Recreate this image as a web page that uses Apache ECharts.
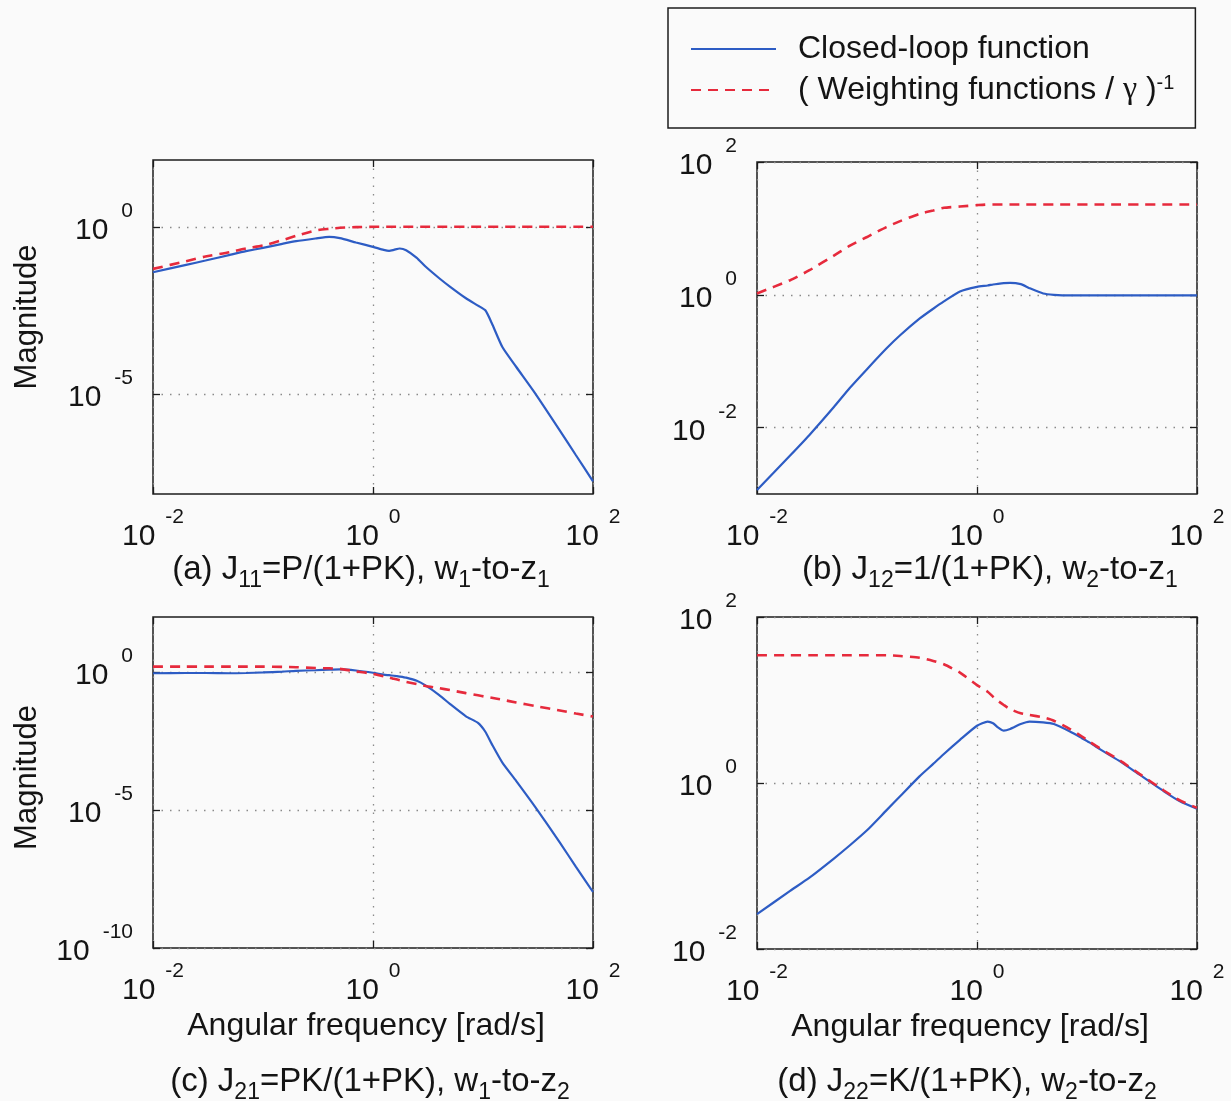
<!DOCTYPE html>
<html>
<head>
<meta charset="utf-8">
<script src="https://cdn.jsdelivr.net/npm/echarts@6/dist/echarts.min.js"></script>
<style>
  html, body { margin: 0; padding: 0; background: #fafafa; }
  #chart { width: 1231px; height: 1101px; }
</style>
</head>
<body>
<div id="chart"></div>
<script>
// Angular frequency samples [rad/s], shared by every panel
const FREQ = [0.01, 0.02, 0.03, 0.05, 0.07, 0.1, 0.15, 0.2, 0.3, 0.4, 0.5, 0.7, 1, 1.25, 1.4,
  1.55, 1.75, 2, 2.5, 3, 4, 5, 7, 9, 10.5, 12, 15, 20, 30, 50, 70, 100];

// Magnitudes as log10|.| at each frequency above
// (a) J11 = P/(1+PK)
const J11_CLOSED = [-1.36, -1.14, -1.01, -0.84, -0.73, -0.63, -0.51, -0.43, -0.35, -0.30, -0.34, -0.47,
  -0.60, -0.69, -0.72, -0.69, -0.65, -0.70, -0.93, -1.19, -1.54, -1.79, -2.14, -2.36, -2.50, -2.88,
  -3.60, -4.19, -5.00, -6.10, -6.84, -7.62];
const J11_WEIGHT = [-1.26, -1.03, -0.89, -0.76, -0.65, -0.56, -0.40, -0.27, -0.11, -0.06, -0.03, -0.01,
  0, 0, 0, 0, 0, 0, 0, 0, 0, 0, 0, 0, 0, 0, 0, 0, 0, 0, 0, 0];
// (b) J12 = 1/(1+PK)
const J12_CLOSED = [-2.94, -2.42, -2.11, -1.69, -1.40, -1.12, -0.81, -0.61, -0.36, -0.21, -0.10, 0.05,
  0.12, 0.14, 0.155, 0.165, 0.175, 0.18, 0.16, 0.10, 0.02, 0.0, -0.01, -0.01, -0.01, -0.01, -0.01,
  -0.01, -0.01, -0.01, -0.01, -0.01];
const J12_WEIGHT = [0.02, 0.22, 0.37, 0.59, 0.74, 0.87, 1.02, 1.11, 1.22, 1.27, 1.31, 1.33, 1.35,
  1.36, 1.36, 1.36, 1.36, 1.36, 1.36, 1.36, 1.36, 1.36, 1.36, 1.36, 1.36, 1.36, 1.36, 1.36, 1.36,
  1.36, 1.36, 1.36];
// (c) J21 = PK/(1+PK)
const J21_CLOSED = [-0.04, -0.03, -0.03, -0.04, -0.03, -0.01, 0.02, 0.05, 0.07, 0.09, 0.10, 0.06,
  -0.02, -0.09, -0.11, -0.13, -0.16, -0.20, -0.31, -0.48, -0.83, -1.15, -1.60, -1.84, -2.16, -2.60,
  -3.28, -3.94, -4.90, -6.18, -7.06, -7.97];
const J21_WEIGHT = [0.20, 0.20, 0.20, 0.20, 0.20, 0.20, 0.19, 0.18, 0.15, 0.14, 0.12, 0.03, -0.06,
  -0.15, -0.19, -0.24, -0.29, -0.35, -0.43, -0.50, -0.58, -0.65, -0.76, -0.84, -0.89, -0.93, -1.00,
  -1.10, -1.23, -1.39, -1.50, -1.61];
// (d) J22 = K/(1+PK)
const J22_CLOSED = [-1.58, -1.30, -1.14, -0.91, -0.75, -0.57, -0.33, -0.16, 0.08, 0.23, 0.35, 0.52,
  0.69, 0.74, 0.72, 0.67, 0.63, 0.65, 0.71, 0.74, 0.73, 0.71, 0.62, 0.54, 0.49, 0.44, 0.36, 0.26,
  0.10, -0.10, -0.22, -0.31];
const J22_WEIGHT = [1.54, 1.54, 1.54, 1.54, 1.54, 1.54, 1.54, 1.53, 1.51, 1.47, 1.43, 1.33, 1.18,
  1.10, 1.04, 0.99, 0.94, 0.89, 0.84, 0.82, 0.79, 0.75, 0.65, 0.56, 0.50, 0.45, 0.37, 0.27, 0.11,
  -0.09, -0.21, -0.30];

// Tick positions
const X_TICKS = [0.01, 1, 100];
const Y_TICKS_A = [1e-5, 1];
const Y_TICKS_B = [1e-2, 1, 1e2];
const Y_TICKS_C = [1e-10, 1e-5, 1];
const Y_TICKS_D = [1e-2, 1, 1e2];

const NAME_CLOSED = 'Closed-loop function';
const NAME_WEIGHT = '( Weighting functions / γ )^-1';
const CAPTIONS = [
  ['(a) J', '11', '=P/(1+PK), w', '1', '-to-z', '1'],
  ['(b) J', '12', '=1/(1+PK), w', '2', '-to-z', '1'],
  ['(c) J', '21', '=PK/(1+PK), w', '1', '-to-z', '2'],
  ['(d) J', '22', '=K/(1+PK), w', '2', '-to-z', '2']
];

const FONT = '"Liberation Sans", Arial, Helvetica, sans-serif';
const INK = '#141414';
const FRAME = '#1c1c1c';
const BLUE = '#2d5cc4';
const RED = '#e62a3c';
const GRIDLINE = '#8a8a8a';

const panels = [
  { box: { left: 153, top: 160, width: 440, height: 334 }, yMin: 1e-8, yMax: 1e2, yTicks: Y_TICKS_A,
    closed: J11_CLOSED, weight: J11_WEIGHT, yName: 'Magnitude', yNameShift: 20, xName: '', cap: [361, 570] },
  { box: { left: 757, top: 162, width: 440, height: 332 }, yMin: 1e-3, yMax: 1e2, yTicks: Y_TICKS_B,
    closed: J12_CLOSED, weight: J12_WEIGHT, yName: '', yNameShift: 0, xName: '', cap: [990, 570] },
  { box: { left: 153, top: 617, width: 440, height: 331 }, yMin: 1e-10, yMax: 1e2, yTicks: Y_TICKS_C,
    closed: J21_CLOSED, weight: J21_WEIGHT, yName: 'Magnitude', yNameShift: 10,
    xName: 'Angular frequency [rad/s]', cap: [370, 1082] },
  { box: { left: 757, top: 617, width: 440, height: 332 }, yMin: 1e-2, yMax: 1e2, yTicks: Y_TICKS_D,
    closed: J22_CLOSED, weight: J22_WEIGHT, yName: '', yNameShift: 0,
    xName: 'Angular frequency [rad/s]', cap: [967, 1082] }
];

// "10" with a raised exponent, as in a log-axis tick label
function powRich(gap) {
  return {
    b: { fontFamily: FONT, fontSize: 30, color: INK, lineHeight: 60 },
    e: { fontFamily: FONT, fontSize: 21, color: INK, verticalAlign: 'top', padding: [0, 0, 0, gap] }
  };
}
function powLabel(v) {
  const e = Math.round(Math.log10(v));
  return '{b|10}{e|' + e + '}';
}

const toPoints = (mags) => FREQ.map((w, i) => [w, Math.pow(10, mags[i])]);

const innerTicks = (values) => ({ show: true, inside: true, length: 7, customValues: values,
  lineStyle: { color: FRAME, width: 1.3 } });
const dottedGrid = { show: true, lineStyle: { color: GRIDLINE, width: 1.3, type: [1.5, 7] } };

const grid = [], xAxis = [], yAxis = [], series = [], title = [];

panels.forEach((p, k) => {
  grid.push(Object.assign({ show: true, borderColor: FRAME, borderWidth: 1.5,
    backgroundColor: 'transparent', containLabel: false }, p.box));

  xAxis[k] = {
    type: 'log', logBase: 10, gridIndex: k, min: 0.01, max: 100, position: 'bottom',
    axisLine: { show: false },
    axisTick: innerTicks(X_TICKS),
    axisLabel: { customValues: X_TICKS, formatter: powLabel, margin: 13, rich: powRich(10) },
    splitLine: dottedGrid,
    minorTick: { show: false }, minorSplitLine: { show: false },
    name: p.xName, nameLocation: 'middle', nameGap: 62,
    nameTextStyle: { fontFamily: FONT, fontSize: 32, color: INK, padding: [0, 14, 0, 0] }
  };
  // tick marks mirrored on the top edge of the box
  xAxis[4 + k] = {
    type: 'log', logBase: 10, gridIndex: k, min: 0.01, max: 100, position: 'top',
    axisLine: { show: false }, axisTick: innerTicks(X_TICKS),
    axisLabel: { show: false }, splitLine: { show: false }
  };

  yAxis[k] = {
    type: 'log', logBase: 10, gridIndex: k, min: p.yMin, max: p.yMax, position: 'left',
    axisLine: { show: false },
    axisTick: innerTicks(p.yTicks),
    axisLabel: { customValues: p.yTicks, formatter: powLabel, margin: 20, padding: [8, 0, 0, 0],
      rich: powRich(13) },
    splitLine: dottedGrid,
    minorTick: { show: false }, minorSplitLine: { show: false },
    name: p.yName, nameLocation: 'middle', nameGap: 110, nameRotate: 90,
    nameTextStyle: { fontFamily: FONT, fontSize: 31, color: INK, padding: [0, 0, 0, p.yNameShift] }
  };
  // tick marks mirrored on the right edge of the box
  yAxis[4 + k] = {
    type: 'log', logBase: 10, gridIndex: k, min: p.yMin, max: p.yMax, position: 'right',
    axisLine: { show: false }, axisTick: innerTicks(p.yTicks),
    axisLabel: { show: false }, splitLine: { show: false }
  };

  series.push({
    type: 'line', name: NAME_CLOSED, xAxisIndex: k, yAxisIndex: k,
    data: toPoints(p.closed), showSymbol: false, symbol: 'none', smooth: 0.2, z: 2,
    lineStyle: { color: BLUE, width: 2.2 }, itemStyle: { color: BLUE }
  });
  series.push({
    type: 'line', name: NAME_WEIGHT, xAxisIndex: k, yAxisIndex: k,
    data: toPoints(p.weight), showSymbol: false, symbol: 'none', smooth: 0.2, z: 3,
    lineStyle: { color: RED, width: 2.6, type: [10, 7] }, itemStyle: { color: RED }
  });

  const c = CAPTIONS[k];
  title.push({
    text: '{n|' + c[0] + '}{s|' + c[1] + '}{n|' + c[2] + '}{s|' + c[3] + '}{n|' + c[4] + '}{s|' + c[5] + '}',
    left: p.cap[0], top: p.cap[1], textAlign: 'center', textVerticalAlign: 'middle', padding: 0,
    textStyle: {
      fontWeight: 'normal',
      rich: {
        n: { fontFamily: FONT, fontSize: 33, fontWeight: 'normal', color: INK, lineHeight: 44 },
        s: { fontFamily: FONT, fontSize: 23, fontWeight: 'normal', color: INK, verticalAlign: 'bottom' }
      }
    }
  });
});

const option = {
  animation: false,
  backgroundColor: '#fafafa',
  title: title,
  legend: {
    orient: 'vertical', left: 668, top: 8,
    data: [NAME_CLOSED, NAME_WEIGHT],
    itemWidth: 85, itemHeight: 30, itemGap: 8,
    padding: [25, 21, 22, 22],
    borderColor: FRAME, borderWidth: 1.5, backgroundColor: 'transparent',
    selectedMode: false,
    itemStyle: { color: 'transparent', borderWidth: 0, opacity: 0 },
    formatter: (name) => name === NAME_WEIGHT
      ? '{gap|}{t|( Weighting functions / }{g|γ}{t| )}{s|-1}'
      : '{gap|}{t|' + name + '}',
    textStyle: {
      fontFamily: FONT, fontSize: 32, color: INK,
      rich: {
        gap: { width: 17 },
        t: { fontFamily: FONT, fontSize: 32, color: INK, lineHeight: 34 },
        g: { fontFamily: '"Liberation Serif", "DejaVu Serif", serif', fontSize: 32, color: INK },
        s: { fontFamily: FONT, fontSize: 20, color: INK, verticalAlign: 'top' }
      }
    }
  },
  grid: grid,
  xAxis: xAxis,
  yAxis: yAxis,
  series: series
};

const chart = echarts.init(document.getElementById('chart'), null, { renderer: 'canvas' });
chart.setOption(option);
</script>
</body>
</html>
